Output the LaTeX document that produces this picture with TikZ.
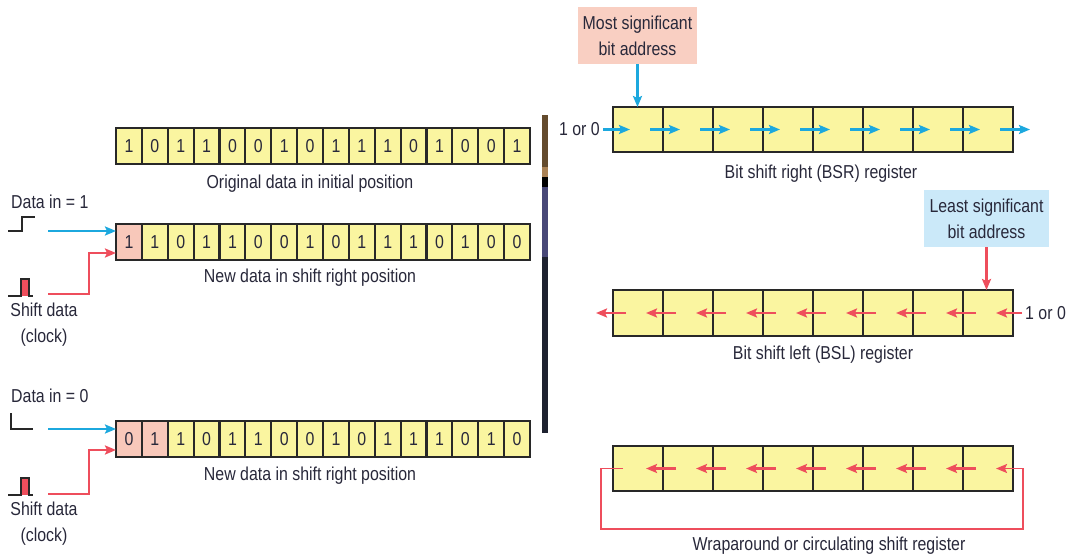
\documentclass[tikz,border=0pt]{standalone}
\usepackage{fontspec}
\setmainfont{Liberation Sans}[FakeStretch=0.85]
\usetikzlibrary{arrows.meta}
\definecolor{cellyellow}{RGB}{250,245,160}
\definecolor{cellpink}{RGB}{248,200,186}
\definecolor{msbpink}{RGB}{249,207,194}
\definecolor{lsbblue}{RGB}{203,233,249}
\definecolor{arrblue}{RGB}{28,168,222}
\definecolor{arrred}{RGB}{238,78,92}
\definecolor{txt}{RGB}{40,40,58}
\definecolor{cellborder}{RGB}{40,40,40}
\definecolor{barbrown}{RGB}{100,75,45}
\definecolor{bartan}{RGB}{170,130,85}
\definecolor{barpurple}{RGB}{72,72,120}
\definecolor{barnavy}{RGB}{30,34,48}
\begin{document}
\begin{tikzpicture}[x=1pt,y=-1pt,
  font=\fontsize{18.7}{26}\selectfont, text=txt,
  bitcell/.style={draw=cellborder, line width=2.2pt, fill=cellyellow,
    minimum width=25.875pt, minimum height=36pt, inner sep=0pt, outer sep=0pt, anchor=north west},
  regcell/.style={draw=cellborder, line width=2.2pt, fill=cellyellow,
    minimum width=50pt, minimum height=45pt, inner sep=0pt, outer sep=0pt, anchor=north west},
  lbl/.style={inner sep=0pt},
  wave/.style={draw=cellborder, line width=1.8pt},
  barrow/.style={draw=arrblue, line width=2.2pt, -{Stealth[length=11pt,width=9pt,inset=2pt]}},
  rarrow/.style={draw=arrred, line width=2.2pt, -{Stealth[length=11pt,width=9pt,inset=2pt]}},
  addrbox/.style={minimum width=119pt, minimum height=57pt, inner sep=0pt, align=center}]
\useasboundingbox (0,0) rectangle (1067,556);
\fill[white] (0,0) rectangle (1067,556);

% dark vertical strip
\fill[barbrown] (542,115) rectangle (548,167);
\fill[bartan] (542,167) rectangle (548,177);
\fill[black] (542,177) rectangle (548,187);
\fill[barpurple] (542,187) rectangle (548,257);
\fill[barnavy] (542,257) rectangle (548,433);

% ---------- left: 16-bit registers ----------
\foreach \v [count=\i] in {1,0,1,1,0,0,1,0,1,1,1,0,1,0,0,1}
  \node[bitcell] (a\i) at ({116+(\i-1)*25.875},128) {\v};
\node[lbl] (la) at (310,184) {Original data in initial position};

\foreach \v/\f [count=\i] in {1/cellpink,1/cellyellow,0/cellyellow,1/cellyellow,1/cellyellow,0/cellyellow,0/cellyellow,1/cellyellow,0/cellyellow,1/cellyellow,1/cellyellow,1/cellyellow,0/cellyellow,1/cellyellow,0/cellyellow,0/cellyellow}
  \node[bitcell, fill=\f] (b\i) at ({116+(\i-1)*25.875},224) {\v};
\node[lbl] (lb) at (310,278) {New data in shift right position};

\foreach \v/\f [count=\i] in {0/cellpink,1/cellpink,1/cellyellow,0/cellyellow,1/cellyellow,1/cellyellow,0/cellyellow,0/cellyellow,1/cellyellow,0/cellyellow,1/cellyellow,1/cellyellow,1/cellyellow,0/cellyellow,1/cellyellow,0/cellyellow}
  \node[bitcell, fill=\f] (c\i) at ({116+(\i-1)*25.875},421) {\v};
\node[lbl] (lc) at (310,476) {New data in shift right position};

% inputs for second register
\node[lbl, anchor=west] (din1t) at (11,202) {Data in = 1};
\draw[wave] (8,231) -- (22,231) -- (22,217) -- (35,217);
\coordinate (din1) at (48,231);
\draw[barrow] (din1) -- (din1 -| b1.west);
\fill[arrred] (21,279) rectangle (29,296);
\draw[wave] (8,296) -- (21,296) -- (21,279) -- (29,279) -- (29,296) -- (33,296);
\node[lbl, align=center] (clk1t) at (44,325) {Shift data\\(clock)};
\coordinate (clk1) at (48,294);
\coordinate (k1) at (89,253);
\draw[rarrow] (clk1) -| (k1) -- (k1 -| b1.west);

% inputs for third register
\node[lbl, anchor=west] (din2t) at (11,396) {Data in = 0};
\draw[wave] (11,413) -- (11,429) -- (33,429);
\coordinate (din2) at (48,429);
\draw[barrow] (din2) -- (din2 -| c1.west);
\fill[arrred] (21,478) rectangle (29,495);
\draw[wave] (8,495) -- (21,495) -- (21,478) -- (29,478) -- (29,495) -- (33,495);
\node[lbl, align=center] (clk2t) at (44,524) {Shift data\\(clock)};
\coordinate (clk2) at (48,494);
\coordinate (k2) at (89,450);
\draw[rarrow] (clk2) -| (k2) -- (k2 -| c1.west);

% ---------- right: BSR ----------
\foreach \i in {1,...,8}
  \node[regcell] (r\i) at ({613+(\i-1)*50},107) {};
\node[addrbox, fill=msbpink] (msb) at (637.5,35.5) {Most significant\\bit address};
\draw[barrow] (msb.south) -- (msb.south |- r1.north);
\node[anchor=east, inner sep=3pt] (in1) at (603,129.5) {1 or 0};
\draw[barrow] (in1.east) -- ([xshift=17pt]r1.west);
\foreach \i in {2,...,8}
  \draw[barrow] ([xshift=-13pt]r\i.west) -- ([xshift=17pt]r\i.west);
\draw[barrow] ([xshift=-13pt]r8.east) -- ([xshift=17pt]r8.east);
\node[lbl] (lr) at (821,174) {Bit shift right (BSR) register};

% ---------- right: BSL ----------
\foreach \i in {1,...,8}
  \node[regcell, minimum height=46pt] (l\i) at ({613+(\i-1)*50},290) {};
\node[addrbox, fill=lsbblue, minimum width=125pt] (lsb) at (986.5,218.5) {Least significant\\bit address};
\draw[rarrow] (lsb.south) -- (lsb.south |- l8.north);
\node[anchor=west, inner sep=3pt] (in2) at (1022,313) {1 or 0};
\draw[rarrow] (in2.west) -- ([xshift=-17pt]l8.east);
\foreach \i in {1,...,8}
  \draw[rarrow] ([xshift=13pt]l\i.west) -- ([xshift=-17pt]l\i.west);
\node[lbl] (ll) at (823,355) {Bit shift left (BSL) register};

% ---------- right: wraparound ----------
\foreach \i in {1,...,8}
  \node[regcell] (w\i) at ({613+(\i-1)*50},446) {};
\foreach \i in {2,...,8}
  \draw[rarrow] ([xshift=13pt]w\i.west) -- ([xshift=-17pt]w\i.west);
\coordinate (wl) at (601,529);
\coordinate (wr) at (1023,529);
\draw[rarrow, line width=1.6pt] ([xshift=10pt]w1.west) -| (wl) -- (wr) |- ([xshift=-17pt]w8.east);
\node[lbl] (lw) at (829,546) {Wraparound or circulating shift register};
\end{tikzpicture}
\end{document}
